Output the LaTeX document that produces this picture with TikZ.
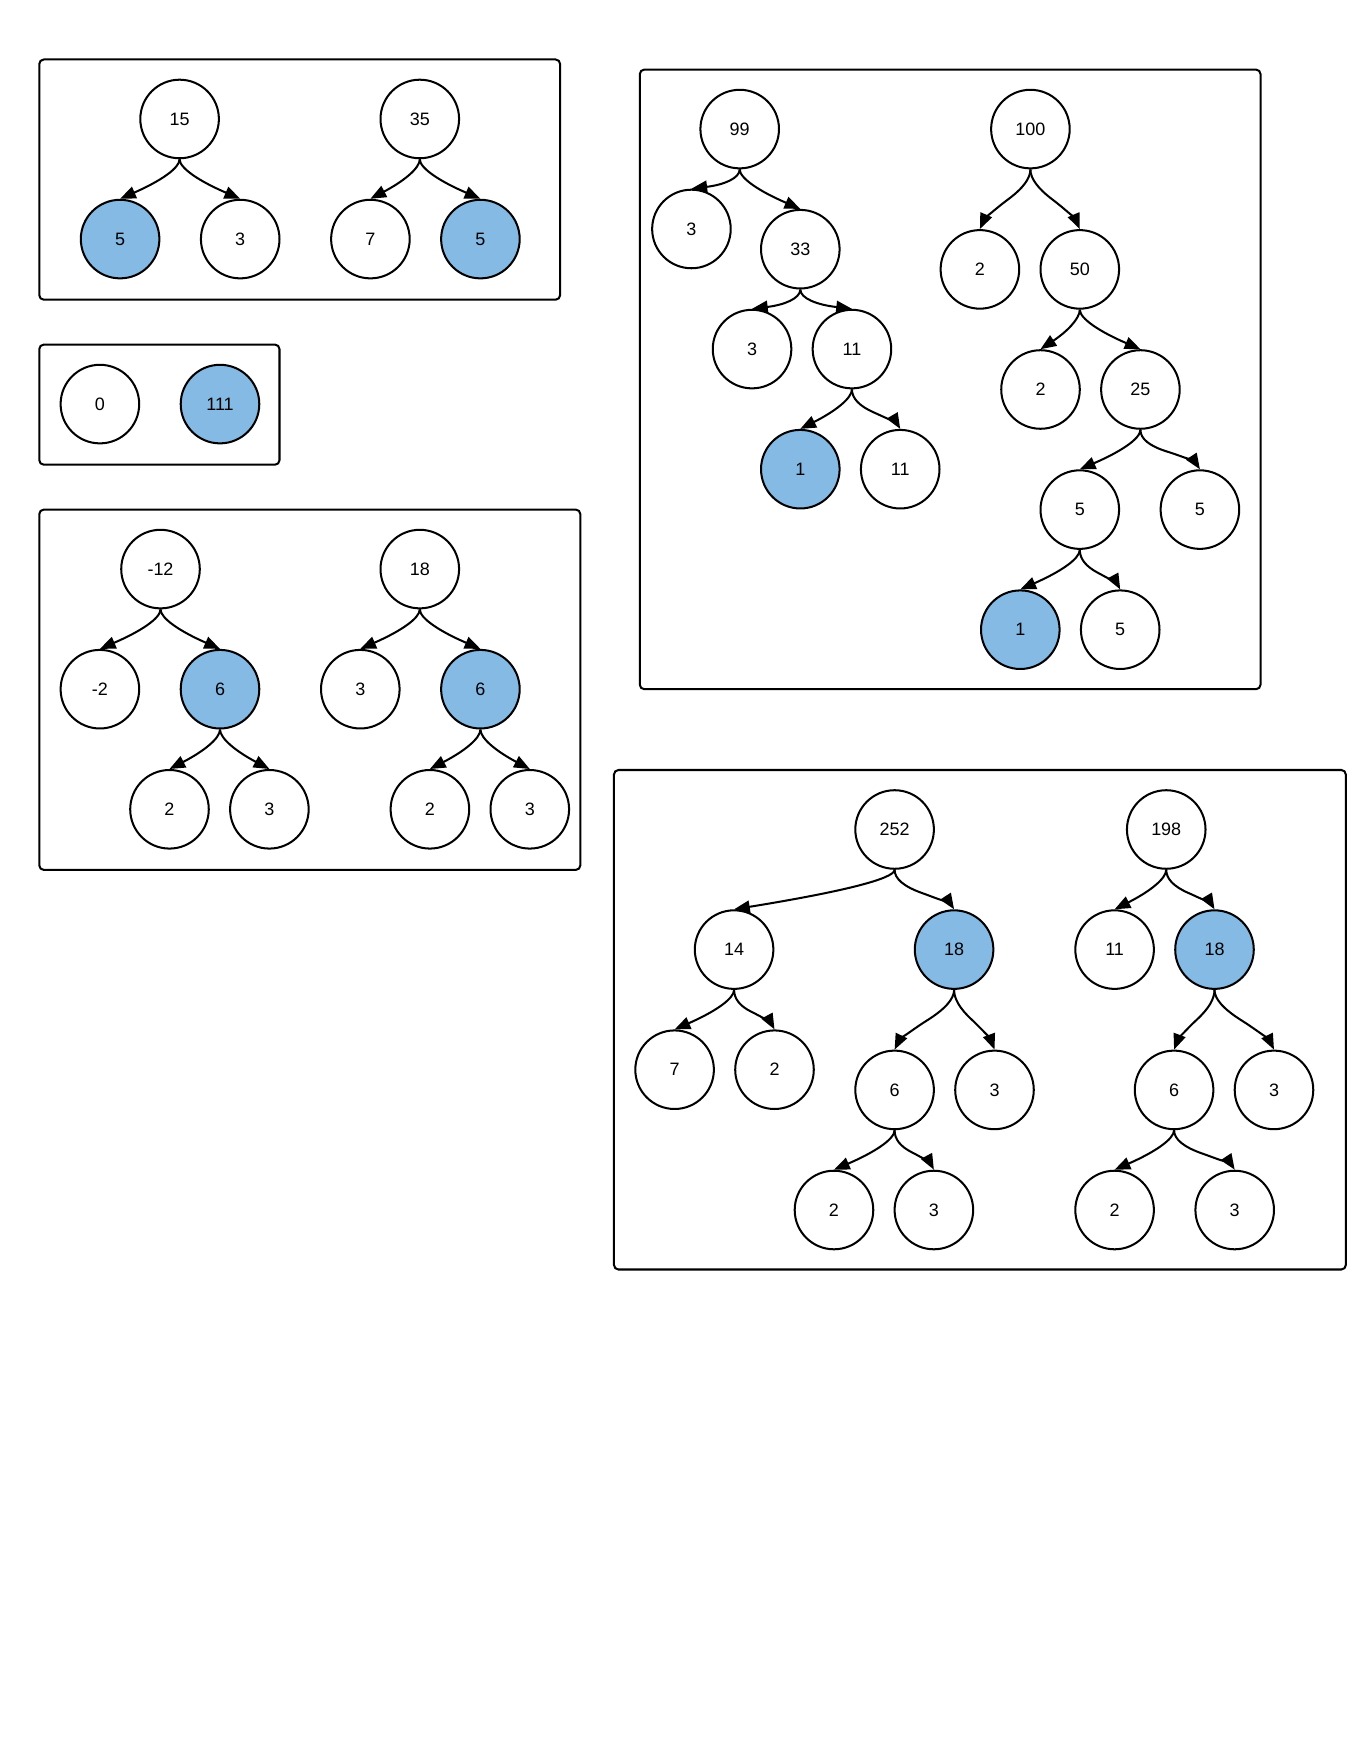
\documentclass[tikz,border=0pt]{standalone}
\usepackage{fontspec}
\setmainfont{Liberation Sans}
\usetikzlibrary{arrows.meta,calc}
\definecolor{hl}{RGB}{132,186,228}
\tikzset{
  nd/.style={circle,draw=black,line width=1.8pt,minimum size=70pt,inner sep=0pt,fill=white,font=\fontsize{16}{19}\selectfont},
  hi/.style={nd,fill=hl},
  arr/.style={line width=1.8pt,-{Triangle[length=14pt,width=11pt]}},
  frame/.style={draw=black,line width=1.8pt,rounded corners=4pt}
}
% \conn{parent}{child}{end stub}
\newcommand\conn[3]{%
  \path (#1.south) coordinate (P0) ++(0,12) coordinate (P1);
  \ifdim #3pt=0pt
    \draw[arr] (P0) .. controls ($(P0)!0.6667!(P1)$) and ($(#2.north)!0.6667!(P1)$) .. (#2.north);
  \else
    \path (#2.north) coordinate (P3) ++(0,-#3) coordinate (P2v);
    \path ($(P3)!#3pt!(P1)$) coordinate (P2d);
    \path ($(P2v)!0.5!(P2d)$) coordinate (P2);
    \path ($(P1)!0.5!(P2)$) coordinate (M);
    \draw[arr] (P0) .. controls ($(P0)!0.6667!(P1)$) and ($(M)!0.6667!(P1)$) .. (M)
      .. controls ($(M)!0.6667!(P2)$) and ($(P3)!0.6667!(P2)$) .. (P3);
  \fi}
\begin{document}
\begin{tikzpicture}[x=1pt,y=-1pt]
\useasboundingbox[fill=white] (0,0) rectangle (1212,1568);
% frames
\draw[frame] (35,53) rectangle (499,267);
\draw[frame] (35,307) rectangle (249,414);
\draw[frame] (35,454) rectangle (517,775);
\draw[frame] (570,62) rectangle (1123,614);
\draw[frame] (547,686) rectangle (1199,1131);
% box 1
\node[nd] (a15) at (160,106) {15};
\node[hi] (a5) at (107,213) {5};
\node[nd] (a3) at (214,213) {3};
\node[nd] (a35) at (374,106) {35};
\node[nd] (a7) at (330,213) {7};
\node[hi] (a5b) at (428,213) {5};
\conn{a15}{a5}{0}\conn{a15}{a3}{0}\conn{a35}{a7}{0}\conn{a35}{a5b}{0}
% box 2
\node[nd] (b0) at (89,360) {0};
\node[hi] (b111) at (196,360) {111};
% box 3
\node[nd] (cm12) at (143,507) {-12};
\node[nd] (cm2) at (89,614) {-2};
\node[hi] (c6) at (196,614) {6};
\node[nd] (c2) at (151,721) {2};
\node[nd] (c3) at (240,721) {3};
\node[nd] (c18) at (374,507) {18};
\node[nd] (c3b) at (321,614) {3};
\node[hi] (c6b) at (428,614) {6};
\node[nd] (c2b) at (383,721) {2};
\node[nd] (c3c) at (472,721) {3};
\conn{cm12}{cm2}{0}\conn{cm12}{c6}{0}\conn{c6}{c2}{0}\conn{c6}{c3}{0}
\conn{c18}{c3b}{0}\conn{c18}{c6b}{0}\conn{c6b}{c2b}{0}\conn{c6b}{c3c}{0}
% box 4
\node[nd] (d99) at (659,115) {99};
\node[nd] (d3) at (616,204) {3};
\node[nd] (d33) at (713,222) {33};
\node[nd] (d3b) at (670,311) {3};
\node[nd] (d11) at (759,311) {11};
\node[hi] (d1) at (713,418) {1};
\node[nd] (d11b) at (802,418) {11};
\node[nd] (d100) at (918,115) {100};
\node[nd] (d2) at (873,240) {2};
\node[nd] (d50) at (962,240) {50};
\node[nd] (d2b) at (927,347) {2};
\node[nd] (d25) at (1016,347) {25};
\node[nd] (d5) at (962,454) {5};
\node[nd] (d5b) at (1069,454) {5};
\node[hi] (d1b) at (909,561) {1};
\node[nd] (d5c) at (998,561) {5};
\conn{d99}{d3}{0}\conn{d99}{d33}{0}\conn{d33}{d3b}{0}\conn{d33}{d11}{0}
\conn{d11}{d1}{0}\conn{d11}{d11b}{8}
\conn{d100}{d2}{14}\conn{d100}{d50}{14}\conn{d50}{d2b}{0}\conn{d50}{d25}{0}
\conn{d25}{d5}{0}\conn{d25}{d5b}{12}
\conn{d5}{d1b}{0}\conn{d5}{d5c}{8}
% box 5
\node[nd] (e252) at (797,739) {252};
\node[nd] (e14) at (654,846) {14};
\node[hi] (e18) at (850,846) {18};
\node[nd] (e7) at (601,953) {7};
\node[nd] (e2) at (690,953) {2};
\node[nd] (e6) at (797,971) {6};
\node[nd] (e3) at (886,971) {3};
\node[nd] (e2b) at (743,1078) {2};
\node[nd] (e3b) at (832,1078) {3};
\node[nd] (e198) at (1039,739) {198};
\node[nd] (e11) at (993,846) {11};
\node[hi] (e18b) at (1082,846) {18};
\node[nd] (e6b) at (1046,971) {6};
\node[nd] (e3c) at (1135,971) {3};
\node[nd] (e2c) at (993,1078) {2};
\node[nd] (e3d) at (1100,1078) {3};
\conn{e252}{e14}{0}\conn{e252}{e18}{8}\conn{e14}{e7}{0}\conn{e14}{e2}{10}
\conn{e18}{e6}{14}\conn{e18}{e3}{14}\conn{e6}{e2b}{0}\conn{e6}{e3b}{10}
\conn{e198}{e11}{0}\conn{e198}{e18b}{8}\conn{e18b}{e6b}{14}\conn{e18b}{e3c}{14}
\conn{e6b}{e2c}{0}\conn{e6b}{e3d}{8}
\end{tikzpicture}
\end{document}
